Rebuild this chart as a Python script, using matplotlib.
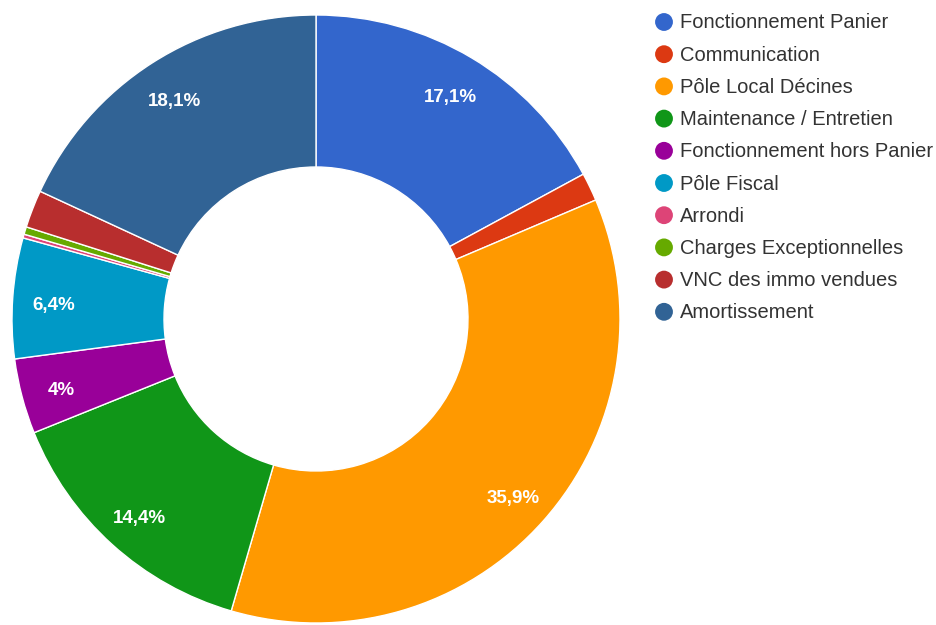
import matplotlib.pyplot as plt
import numpy as np

labels = ['Fonctionnement Panier', 'Communication', 'Pôle Local Décines',
          'Maintenance / Entretien', 'Fonctionnement hors Panier', 'Pôle Fiscal',
          'Arrondi', 'Charges Exceptionnelles', 'VNC des immo vendues',
          'Amortissement']
values = [17.1, 1.5, 35.9, 14.4, 4.0, 6.4, 0.2, 0.4, 2.0, 18.1]
shown = ['17,1%', '', '35,9%', '14,4%', '4%', '6,4%', '', '', '', '18,1%']
colors = ['#3366cc', '#dc3912', '#ff9900', '#109618', '#990099', '#0099c6',
          '#dd4477', '#66aa00', '#b82e2e', '#316395']

plt.rcParams['font.family'] = ['Liberation Sans', 'DejaVu Sans']

W, H = 936, 625
fig = plt.figure(figsize=(W / 100, H / 100), dpi=100)

# pie: centre (316, 319) px, radius 304 px
cx, cy, r = 316, 319, 304
ax = fig.add_axes([(cx - r) / W, (H - cy - r) / H, 2 * r / W, 2 * r / H])
wedges, _ = ax.pie(values, colors=colors, startangle=90, counterclock=False,
                   radius=1.0, wedgeprops=dict(width=0.5, edgecolor='white', linewidth=1))
for w, txt in zip(wedges, shown):
    if not txt:
        continue
    ang = np.deg2rad((w.theta1 + w.theta2) / 2)
    ax.text(0.865 * np.cos(ang), 0.865 * np.sin(ang) - 0.015, txt, ha='center',
            va='center', color='white', fontsize=13.5, fontweight='bold')
ax.set_xlim(-1, 1)
ax.set_ylim(-1, 1)
ax.set_aspect('equal')
ax.axis('off')

# legend in pixel coordinates
lg = fig.add_axes([0, 0, 1, 1])
lg.set_xlim(0, W)
lg.set_ylim(H, 0)
lg.axis('off')
for i, (lab, col) in enumerate(zip(labels, colors)):
    y = 22 + i * 32.2
    lg.scatter([664], [y], s=165, color=col, edgecolors='none')
    lg.text(680, y + 1, lab, ha='left', va='center', fontsize=14.5, color='#333333')

plt.savefig('out.png', dpi=100)
